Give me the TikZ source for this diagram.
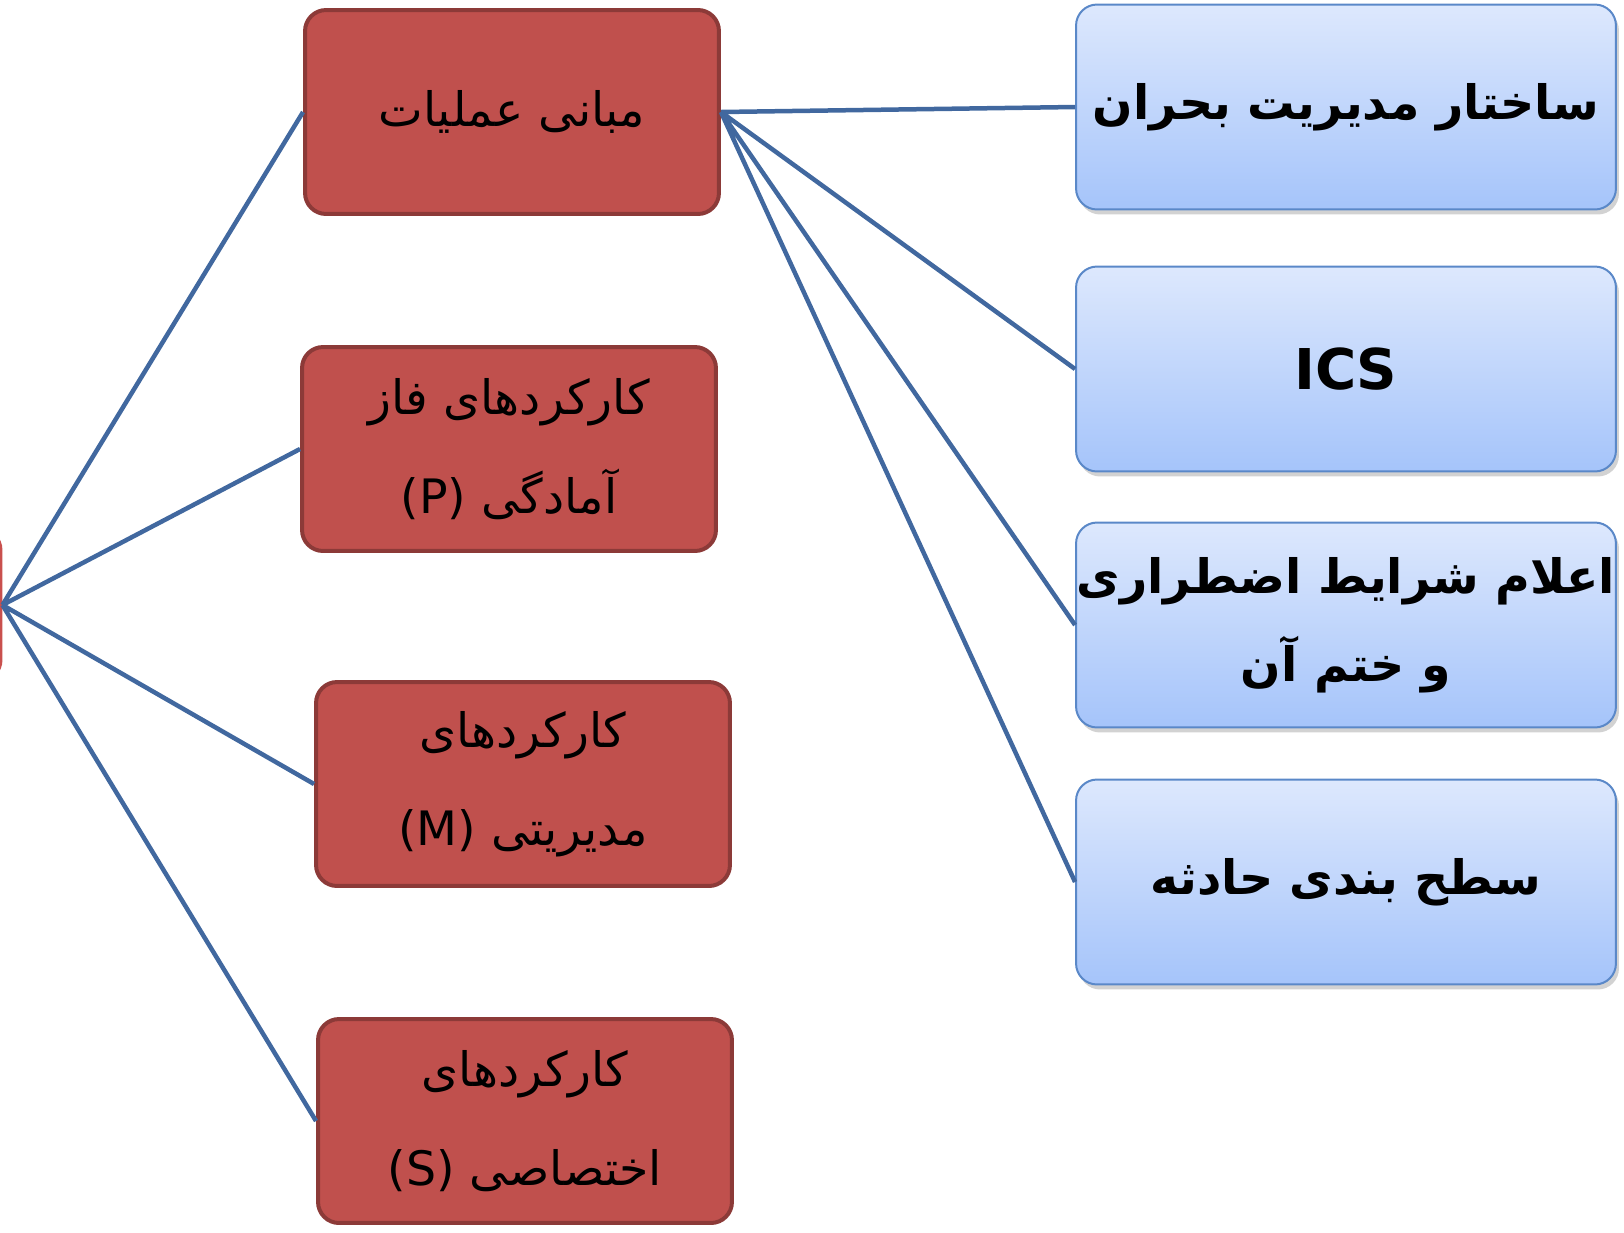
\documentclass[tikz,border=0pt]{standalone}
\usepackage{fontspec}
\usepackage{tikz}
\usetikzlibrary{
    positioning,
    shadows
}
\TeXXeTstate=1
\newfontfamily\farsi[Script=Arabic]{DejaVu Sans}
\definecolor{opsred}{HTML}{C0504D}
\definecolor{opsredline}{HTML}{8C3A38}
\definecolor{hubfill}{HTML}{F2A3A1}
\definecolor{hubline}{HTML}{C9504E}
\definecolor{linkblue}{HTML}{41689F}
\definecolor{boxtop}{HTML}{DDE8FD}
\definecolor{boxbot}{HTML}{A5C4FA}
\definecolor{boxline}{HTML}{5A88C8}

\begin{document}
\begin{tikzpicture}[x=0.02cm, y=-0.02cm,
    redbox/.style={draw=opsredline, fill=opsred, line width=0.08cm, rounded corners=0.42cm,
        minimum width=8.28cm, minimum height=4.08cm, inner sep=0pt, align=center,
        font=\farsi\fontsize{27}{56}\selectfont},
    bluebox/.style={draw=boxline, top color=boxtop, bottom color=boxbot, line width=0.04cm,
        rounded corners=0.42cm, minimum width=10.8cm, minimum height=4.1cm, inner sep=0pt,
        align=center, font=\farsi\bfseries\fontsize{27}{50}\selectfont,
        drop shadow={shadow xshift=0.06cm, shadow yshift=-0.1cm, opacity=0.25, fill=black!70}},
    link/.style={draw=linkblue, line width=0.09cm}]
                        \clip (0, 0) rectangle (1624, 1232);
                        \node[draw=hubline, fill=hubfill, line width=0.06cm, rounded corners=0.42cm,
                            minimum width=6cm, minimum height=3.04cm] (hub) at (-149, 605) {};
                        \node[redbox] (ops) at (512, 112) {\beginR مبانی عملیات\endR};
                        \node[redbox] (prep) at (509, 449) {\beginR کارکردهای فاز\endR\\\beginR آمادگی \beginL(P)\endL\endR};
                        \node[redbox] (mgmt) at (523, 784) {\beginR کارکردهای\endR\\\beginR مدیریتی \beginL(M)\endL\endR};
                        \node[redbox] (spec) at (525, 1121) {\beginR کارکردهای\endR\\\beginR اختصاصی \beginL(S)\endL\endR};
                        \node[bluebox] (struct) at (1346, 107) {\beginR ساختار مدیریت بحران\endR};
                        \node[bluebox, font=\farsi\bfseries\fontsize{32}{50}\selectfont] (ics) at (1346, 369) {ICS};
                        \node[bluebox] (alarm) at (1346, 625) {\beginR اعلام شرایط اضطراری\endR\\\beginR و ختم آن\endR};
                        \node[bluebox] (level) at (1346, 882) {\beginR سطح بندی حادثه\endR};
                        \draw[link]
                        (hub.east) -- (ops.west)
                        (hub.east) -- (prep.west)
                        (hub.east) -- (mgmt.west)
                        (hub.east) -- (spec.west)
                        (ops.east) -- (struct.west)
                        (ops.east) -- (ics.west)
                        (ops.east) -- (alarm.west)
                        (ops.east) -- (level.west);
                    \end{tikzpicture}
\end{document}
